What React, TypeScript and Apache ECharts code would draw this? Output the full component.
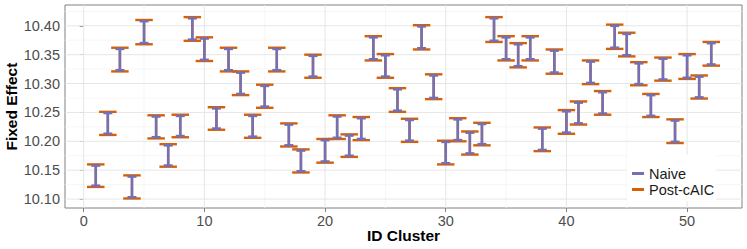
import React, { useEffect, useRef } from "react";
import * as echarts from "echarts";

const clusters = [1,2,3,4,5,6,7,8,9,10,11,12,13,14,15,16,17,18,19,20,21,22,23,24,25,26,27,28,29,30,31,32,33,34,35,36,37,38,39,40,41,42,43,44,45,46,47,48,49,50,51,52];

const postUpper = [10.160,10.251,10.362,10.141,10.410,10.245,10.195,10.246,10.415,10.380,10.259,10.362,10.321,10.246,10.298,10.362,10.231,10.186,10.350,10.204,10.245,10.212,10.242,10.382,10.351,10.292,10.239,10.401,10.316,10.201,10.240,10.217,10.232,10.415,10.382,10.370,10.382,10.224,10.359,10.254,10.269,10.340,10.287,10.402,10.388,10.337,10.282,10.345,10.238,10.351,10.314,10.372];
const postLower = [10.121,10.211,10.321,10.101,10.368,10.205,10.156,10.207,10.374,10.339,10.220,10.321,10.280,10.206,10.258,10.321,10.191,10.146,10.310,10.163,10.204,10.173,10.202,10.340,10.310,10.251,10.199,10.359,10.273,10.160,10.200,10.177,10.193,10.372,10.340,10.328,10.340,10.183,10.317,10.213,10.229,10.299,10.246,10.360,10.347,10.297,10.242,10.305,10.197,10.308,10.274,10.331];

const naiveUpper = [10.158,10.249,10.360,10.139,10.408,10.243,10.193,10.244,10.413,10.378,10.257,10.360,10.319,10.244,10.296,10.360,10.229,10.184,10.348,10.202,10.243,10.210,10.240,10.380,10.349,10.290,10.237,10.399,10.314,10.199,10.238,10.215,10.230,10.413,10.380,10.368,10.380,10.222,10.357,10.252,10.267,10.338,10.285,10.400,10.386,10.335,10.280,10.343,10.236,10.349,10.312,10.370];
const naiveLower = [10.123,10.213,10.323,10.103,10.370,10.207,10.158,10.209,10.376,10.341,10.222,10.323,10.282,10.208,10.260,10.323,10.193,10.148,10.312,10.165,10.206,10.175,10.204,10.342,10.312,10.253,10.201,10.361,10.275,10.162,10.202,10.179,10.195,10.374,10.342,10.330,10.342,10.185,10.319,10.215,10.231,10.301,10.248,10.362,10.349,10.299,10.244,10.307,10.199,10.310,10.276,10.333];

const xTicks = [0, 10, 20, 30, 40, 50];
const xMinor = [5, 15, 25, 35, 45];
const yTicks = [10.10, 10.15, 10.20, 10.25, 10.30, 10.35, 10.40];
const yMinor = [10.125, 10.175, 10.225, 10.275, 10.325, 10.375, 10.425];

const xTitle = "ID Cluster";
const yTitle = "Fixed Effect";

const X_MIN = -1.55, X_MAX = 54.55, Y_MIN = 10.0845, Y_MAX = 10.436;
const FONT = "Liberation Sans, Arial, Helvetica, sans-serif";
const PURPLE = "#7570B3";
const ORANGE = "#D95F02";

function errorBarRender(color: string, capW: number, lw: number) {
  return (params: any, api: any) => {
    const x = api.value(0);
    const lo = api.value(1);
    const hi = api.value(2);
    const pHi = api.coord([x, hi]);
    const pLo = api.coord([x, lo]);
    const h = capW / 2;
    const style = { stroke: color, lineWidth: lw, fill: null };
    return {
      type: "group",
      children: [
        { type: "line", shape: { x1: pHi[0], y1: pHi[1], x2: pLo[0], y2: pLo[1] }, style },
        { type: "line", shape: { x1: pHi[0] - h, y1: pHi[1], x2: pHi[0] + h, y2: pHi[1] }, style },
        { type: "line", shape: { x1: pLo[0] - h, y1: pLo[1], x2: pLo[0] + h, y2: pLo[1] }, style },
      ],
    };
  };
}

function gridRender(dir: "x" | "y", color: string, lw: number) {
  return (params: any, api: any) => {
    const v = api.value(0);
    const cs = params.coordSys;
    if (dir === "y") {
      const y = api.coord([0, v])[1];
      return { type: "line", silent: true, shape: { x1: cs.x, y1: y, x2: cs.x + cs.width, y2: y }, style: { stroke: color, lineWidth: lw } };
    }
    const x = api.coord([v, 10.2])[0];
    return { type: "line", silent: true, shape: { x1: x, y1: cs.y, x2: x, y2: cs.y + cs.height }, style: { stroke: color, lineWidth: lw } };
  };
}

export default function App() {
  const ref = useRef<HTMLDivElement>(null);
  useEffect(() => {
    if (!ref.current) return;
    const chart = echarts.init(ref.current, null, { renderer: "svg" });
    const postData = clusters.map((c, i) => [c, postLower[i], postUpper[i]]);
    const naiveData = clusters.map((c, i) => [c, naiveLower[i], naiveUpper[i]]);
    const legendIcon = "path://M0,0h12v3h-12z";
    const titleStyle = { fontSize: 15.5, fontWeight: "bold", fill: "#000", fontFamily: FONT, align: "center", verticalAlign: "middle" };
    chart.setOption({
      animation: false,
      backgroundColor: "#ffffff",
      grid: {
        left: 65, top: 5, right: 5, bottom: 41,
        containLabel: false,
        outerBoundsMode: "none",
        show: true,
        borderColor: "#808080",
        borderWidth: 1,
        backgroundColor: "transparent",
      },
      graphic: [
        { type: "text", x: 403.5, y: 235, style: { text: xTitle, ...titleStyle } },
        { type: "text", x: 11.5, y: 106.6, rotation: Math.PI / 2, style: { text: yTitle, ...titleStyle } },
      ],
      legend: {
        orient: "vertical",
        left: 627,
        top: 155,
        backgroundColor: "#ffffff",
        padding: [11, 2, 4, 5],
        itemWidth: 12,
        itemHeight: 14,
        itemGap: 1,
        itemTextGap: 7,
        selectedMode: false,
        textStyle: { fontSize: 14.5, color: "#1a1a1a", fontFamily: FONT, lineHeight: 14 },
        data: [
          { name: "Naive", icon: legendIcon },
          { name: "Post-cAIC", icon: legendIcon },
        ],
      },
      xAxis: {
        type: "value",
        min: X_MIN,
        max: X_MAX,
        axisLine: { show: false },
        axisTick: { show: true, customValues: xTicks, length: 4, lineStyle: { color: "#808080", width: 1 } },
        axisLabel: { customValues: xTicks, color: "#4d4d4d", fontSize: 14.5, fontFamily: FONT, margin: 5, formatter: (v: number) => String(v) },
        splitLine: { show: false },
      },
      yAxis: {
        type: "value",
        min: Y_MIN,
        max: Y_MAX,
        axisLine: { show: false },
        axisTick: { show: true, customValues: yTicks, length: 4, lineStyle: { color: "#808080", width: 1 } },
        axisLabel: { customValues: yTicks, color: "#4d4d4d", fontSize: 14.5, fontFamily: FONT, margin: 5, formatter: (v: number) => v.toFixed(2) },
        splitLine: { show: false },
      },
      series: [
        { type: "custom", name: "_yminor", silent: true, z: 0, renderItem: gridRender("y", "#f4f4f4", 0.8), data: yMinor.map((v) => [v]), encode: { y: 0 } },
        { type: "custom", name: "_xminor", silent: true, z: 0, renderItem: gridRender("x", "#f4f4f4", 0.8), data: xMinor.map((v) => [v]), encode: { x: 0 } },
        { type: "custom", name: "_ymajor", silent: true, z: 1, renderItem: gridRender("y", "#e6e6e6", 1), data: yTicks.map((v) => [v]), encode: { y: 0 } },
        { type: "custom", name: "_xmajor", silent: true, z: 1, renderItem: gridRender("x", "#e6e6e6", 1), data: xTicks.map((v) => [v]), encode: { x: 0 } },
        {
          type: "custom",
          name: "Post-cAIC",
          z: 5,
          itemStyle: { color: ORANGE },
          renderItem: errorBarRender(ORANGE, 17.5, 2.4),
          data: postData,
          encode: { x: 0, y: [1, 2] },
        },
        {
          type: "custom",
          name: "Naive",
          z: 6,
          itemStyle: { color: PURPLE },
          renderItem: errorBarRender(PURPLE, 9, 2.6),
          data: naiveData,
          encode: { x: 0, y: [1, 2] },
        },
      ],
    });
    return () => chart.dispose();
  }, []);
  return <div ref={ref} style={{ position: "fixed", left: 0, top: 0, width: 747, height: 249, background: "#fff" }} />;
}
